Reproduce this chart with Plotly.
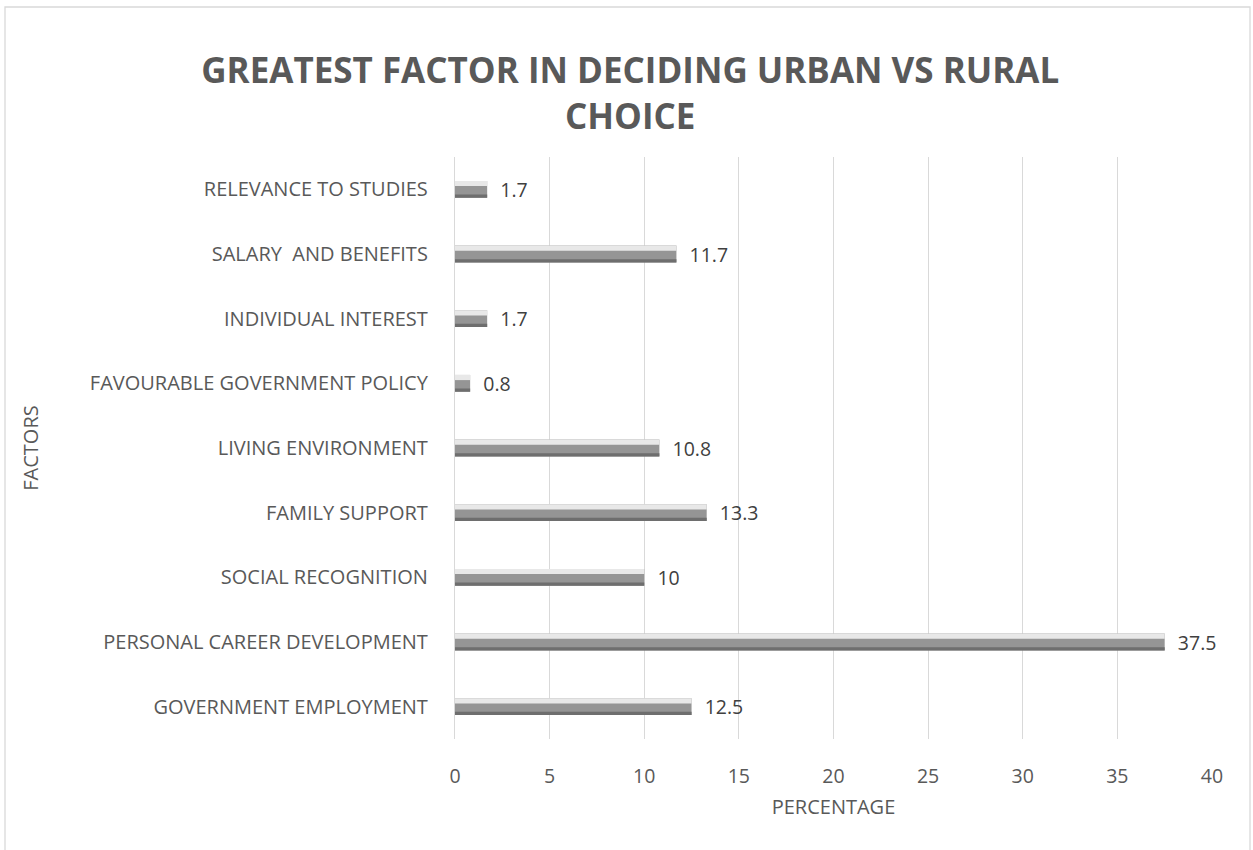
import plotly.graph_objects as go

categories = [
    "GOVERNMENT EMPLOYMENT",
    "PERSONAL CAREER DEVELOPMENT",
    "SOCIAL RECOGNITION",
    "FAMILY SUPPORT",
    "LIVING ENVIRONMENT",
    "FAVOURABLE GOVERNMENT POLICY",
    "INDIVIDUAL INTEREST",
    "SALARY \u00a0AND BENEFITS",
    "RELEVANCE TO STUDIES",
]
values = [12.5, 37.5, 10, 13.3, 10.8, 0.8, 1.7, 11.7, 1.7]
value_labels = ["12.5", "37.5", "10", "13.3", "10.8", "0.8", "1.7", "11.7", "1.7"]
x_ticks = [0, 5, 10, 15, 20, 25, 30, 35, 40]

FONT = "Open Sans, Calibri, sans-serif"
TXT = "#595959"

fig = go.Figure()
# base (mid gray) bar with labels
fig.add_trace(go.Bar(
    y=categories, x=values, orientation="h",
    width=0.26, offset=-0.13,
    marker=dict(color="#959595", line=dict(width=0)),
    text=["\u00a0\u00a0" + t for t in value_labels], textposition="outside",
    constraintext="none",
    textfont=dict(family=FONT, size=19.5, color="#404040"),
    cliponaxis=False, hoverinfo="skip", showlegend=False,
))
# darker lower edge
fig.add_trace(go.Bar(
    y=categories, x=values, orientation="h",
    width=0.05, offset=-0.13,
    marker=dict(color="#6e6e6e", line=dict(width=0)),
    hoverinfo="skip", showlegend=False,
))
# light upper bevel
fig.add_trace(go.Bar(
    y=categories, x=values, orientation="h",
    width=0.08, offset=0.05,
    marker=dict(color="#e8e8e8", line=dict(width=0)),
    hoverinfo="skip", showlegend=False,
))

fig.update_layout(
    width=1253, height=850,
    barmode="overlay",
    paper_bgcolor="white", plot_bgcolor="white",
    margin=dict(l=455, r=41, t=157, b=111),
    font=dict(family=FONT, color=TXT),
    title=dict(
        text="<b>GREATEST FACTOR IN DECIDING URBAN VS RURAL<br>CHOICE</b>",
        x=0.503, xanchor="center", y=0.902, yanchor="top",
        font=dict(family=FONT, size=35, color=TXT),
    ),
    xaxis=dict(
        range=[0, 40], tickvals=x_ticks, ticktext=[str(v) for v in x_ticks],
        showgrid=True, gridcolor="#d9d9d9", gridwidth=1.3,
        zeroline=False, showline=False, ticks="",
        tickfont=dict(family=FONT, size=19.5, color=TXT),
        ticklabelstandoff=23,
        title=dict(text="PERCENTAGE", standoff=12,
                   font=dict(family=FONT, size=20, color=TXT)),
    ),
    yaxis=dict(
        showgrid=False, zeroline=False,
        showline=True, linecolor="#d9d9d9", linewidth=1.3,
        ticks="", ticklabelstandoff=22,
        tickfont=dict(family=FONT, size=20, color=TXT),
        title=dict(text="FACTORS", standoff=45,
                   font=dict(family=FONT, size=20, color=TXT)),
    ),
    shapes=[dict(
        type="rect", xref="paper", yref="paper",
        x0=(5 - 455) / 757, x1=(1250 - 455) / 757,
        y0=(739 - 852) / 582, y1=(739 - 7) / 582,
        line=dict(color="#d9d9d9", width=1.3), fillcolor="rgba(0,0,0,0)",
        layer="below",
    )],
)

fig.write_html("out.html")
